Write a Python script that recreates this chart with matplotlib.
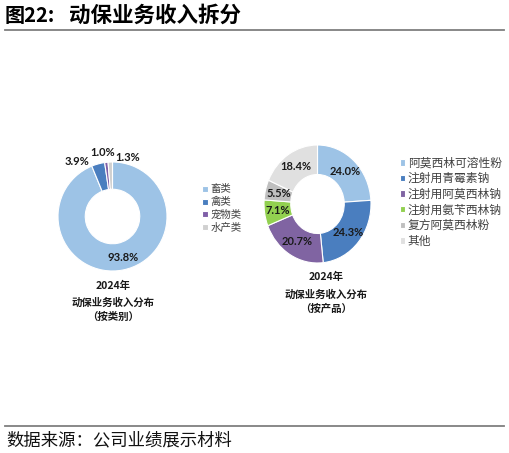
import numpy as np
import matplotlib.pyplot as plt
from matplotlib.lines import Line2D

plt.rcParams['font.family'] = ['Noto Sans CJK SC', 'DejaVu Sans']

# 按类别
cat_labels = ['畜类', '禽类', '宠物类', '水产类']
cat_values = [93.8, 3.9, 1.0, 1.3]
cat_colors = ['#9DC3E6', '#4A7EBF', '#7F5FA8', '#D0D0D0']

# 按产品
prod_labels = ['阿莫西林可溶性粉', '注射用青霉素钠', '注射用阿莫西林钠',
               '注射用氨苄西林钠', '复方阿莫西林粉', '其他']
prod_values = [24.0, 24.3, 20.7, 7.1, 5.5, 18.4]
prod_colors = ['#9DC3E6', '#4A7EBF', '#8064A2', '#92D050', '#BFBFBF', '#E0E0E0']

W, H = 510, 453
fig = plt.figure(figsize=(W / 100, H / 100), dpi=100)


def px_axes(cx, cy, rx, ry, pad=1.5):
    w, h = 2 * rx * pad, 2 * ry * pad
    return fig.add_axes([(cx - w / 2) / W, 1 - (cy + h / 2) / H, w / W, h / H])


def ftext(x, y, s, **kw):
    fig.text(x / W, 1 - y / H, s, **kw)


def donut(ax, values, colors):
    wedges, _ = ax.pie(values, colors=colors, startangle=90, counterclock=False,
                       radius=1, wedgeprops=dict(width=0.5, edgecolor='white', linewidth=0.8))
    ax.set_aspect('auto')
    ax.set_xlim(-1.5, 1.5)
    ax.set_ylim(-1.5, 1.5)
    ax.axis('off')
    return wedges


pct_font = dict(family=['Lato', 'DejaVu Sans'], fontweight='bold', fontsize=8,
                color='#1a1a1a', ha='center', va='center')

# 左图
ax1 = px_axes(112.5, 216.5, 54.5, 54.5)
w1 = donut(ax1, cat_values, cat_colors)
cat_label_pos = [(0.19, -0.75), (-0.66, 1.0), (-0.19, 1.18), (0.28, 1.08)]
for v, (x, y) in zip(cat_values, cat_label_pos):
    ax1.text(x, y, f'{v:.1f}%', **pct_font)

# 右图
ax2 = px_axes(317.5, 204, 53.5, 59)
w2 = donut(ax2, prod_values, prod_colors)
cum = np.cumsum([0] + prod_values[:-1])
for v, c in zip(prod_values, cum):
    ang = np.deg2rad(90 - (c + v / 2) * 3.6)
    ax2.text(0.75 * np.cos(ang), 0.75 * np.sin(ang), f'{v:.1f}%', **pct_font)

# 图例
fig.legend(w1, cat_labels, loc='upper left', bbox_to_anchor=(193 / W, 1 - 175 / H),
           frameon=False, fontsize=7.5, handlelength=0.5, handleheight=0.5,
           handletextpad=0.3, labelspacing=0.26, labelcolor='#404040')
fig.legend(w2, prod_labels, loc='upper left', bbox_to_anchor=(389 / W, 1 - 146 / H),
           frameon=False, fontsize=8.5, handlelength=0.45, handleheight=0.45,
           handletextpad=0.25, labelspacing=0.22, labelcolor='#404040')

# 图下说明
cap = dict(ha='center', va='center', fontsize=7.5, fontweight='bold', color='#1a1a1a')
ftext(113, 286, '2024年', **cap)
ftext(113, 302.5, '动保业务收入分布', **cap)
ftext(113, 317, '（按类别）', **cap)
ftext(326, 277, '2024年', **cap)
ftext(326, 294.5, '动保业务收入分布', **cap)
ftext(326, 309, '（按产品）', **cap)

# 标题与来源
ftext(5, 15, '图22:', fontsize=14.5, fontweight='bold', va='center', ha='left')
ftext(69, 15, '动保业务收入拆分', fontsize=15.5, fontweight='bold', va='center', ha='left')
ftext(6, 440, '数据来源：公司业绩展示材料', fontsize=12.5, va='center', ha='left', color='#111111')
for y in (30, 426):
    fig.add_artist(Line2D([5 / W, 504 / W], [1 - y / H, 1 - y / H], color='#7f7f7f', lw=1.3))

plt.savefig('out.png', dpi=100)
